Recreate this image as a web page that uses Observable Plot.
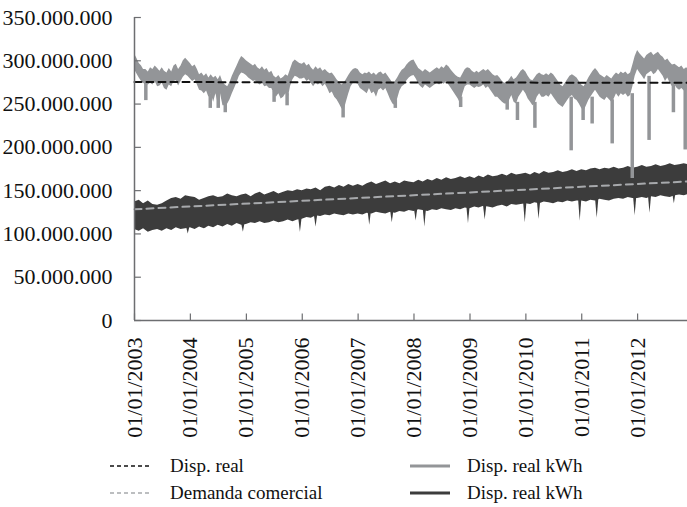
<!DOCTYPE html>
<html><head><meta charset="utf-8">
<script src="https://cdn.jsdelivr.net/npm/d3@7"></script>
<script src="https://cdn.jsdelivr.net/npm/@observablehq/plot@0.6"></script>
<style>
body{margin:0;background:#fff;font-family:"Liberation Serif","Times New Roman",serif;}
#wrap{position:relative;width:687px;height:507px;overflow:hidden;}
#legend{position:absolute;left:0;top:450px;width:687px;height:57px;font-size:19px;color:#111;}
.item{position:absolute;height:20px;line-height:20px;white-space:nowrap;}
</style></head><body><div id="wrap"><div id="chart"></div><div id="legend"></div></div>
<script>
// ---- axis ticks ----
const yTicks = [0, 50e6, 100e6, 150e6, 200e6, 250e6, 300e6, 350e6];
const xTickLabels = ["01/01/2003","01/01/2004","01/01/2005","01/01/2006","01/01/2007","01/01/2008","01/01/2009","01/01/2010","01/01/2011","01/01/2012"];
const xTickDates = ["2003-01-01","2004-01-01","2005-01-01","2006-01-01","2007-01-01","2008-01-01","2009-01-01","2010-01-01","2011-01-01","2012-01-01"];
const xDomain = ["2003-01-01", "2012-11-22"];

// ---- Disp. real kWh, light grey band (millions kWh), half-monthly from Jan 2003 ----
const grayHigh = [
 308,303,297,294,290,290,287,292,290,294,291,288,292,288,286,291,287,294,296,290,294,300,303,300, // 2003
 297,293,295,290,284,286,282,285,280,284,280,282,278,283,275,272,270,275,282,288,294,300,305,303, // 2004
 300,298,296,294,296,292,290,293,289,291,286,288,282,280,283,279,281,284,282,290,298,301,299,297, // 2005
 296,298,294,296,292,289,293,290,292,288,290,287,285,286,282,278,275,272,274,278,283,287,290,291, // 2006
 290,286,284,286,285,287,284,286,283,286,287,284,286,282,278,274,276,280,285,289,291,295,298,300, // 2007
 301,296,291,289,287,290,288,286,288,290,292,290,293,291,295,293,289,286,283,281,280,285,290,292, // 2008
 291,288,286,288,286,288,290,288,290,287,284,282,283,280,276,274,275,278,282,278,280,284,288,290, // 2009
 287,282,278,277,280,284,286,284,283,285,283,286,284,280,276,272,270,274,278,282,284,282,280,276, // 2010
 272,270,275,280,284,288,291,288,284,282,280,283,281,279,283,286,284,287,285,287,284,286,295,305, // 2011
 312,308,305,302,306,308,310,306,308,310,306,304,300,302,298,295,296,294,292,294,290,292,290      // 2012
];
const grayLow = [
 290,285,280,276,274,272,272,274,272,276,270,271,274,268,266,272,270,276,277,271,276,281,284,282, // 2003
 279,276,278,272,266,265,262,265,258,262,252,262,250,262,248,248,250,255,262,268,275,282,286,285, // 2004
 283,280,278,276,277,274,272,274,270,271,268,268,262,258,262,256,258,262,256,270,278,282,281,279, // 2005
 279,280,276,278,274,270,274,272,274,270,273,268,262,264,258,255,250,245,242,252,262,270,274,274, // 2006
 273,268,266,264,262,268,262,264,258,266,268,265,268,262,255,250,248,256,265,270,272,277,280,282, // 2007
 283,279,273,270,268,272,270,268,270,272,274,272,275,273,276,272,268,264,260,256,250,262,270,272, // 2008
 272,270,268,270,269,270,272,268,270,266,262,258,258,255,252,250,250,254,260,252,250,258,262,266, // 2009
 262,256,252,248,250,258,262,258,258,260,258,262,258,254,250,248,246,250,254,258,260,256,254,250, // 2010
 245,242,248,254,258,262,266,262,258,256,254,258,255,252,256,262,258,262,260,262,258,260,270,282, // 2011
 290,286,282,278,284,286,288,284,286,290,286,282,276,280,274,270,272,268,266,268,265,266,265      // 2012
];
// narrow downward spikes of the grey series
const graySpikeDates = ["2003-03-16","2004-05-10","2004-07-01","2004-08-16","2005-07-01","2005-09-24","2006-09-25","2007-09-01","2008-11-01","2009-09-01","2009-11-07","2010-03-01","2010-10-24","2011-01-10","2011-03-10","2011-07-19","2011-11-27","2012-03-16","2012-08-22","2012-11-07"];
const graySpikeLow = [254,245,245,240,252,248,234,245,246,243,231,222,196,231,227,204,164,208,240,197];
const graySpikeTop = [275,262,262,255,265,262,250,255,258,255,252,252,258,248,258,255,262,282,272,268];

// ---- Disp. real kWh, dark band (millions kWh), monthly from Jan 2003 ----
const darkHigh = [
 137,139,135,138,134,133,135,138,141,142,140,144,
 143,142,139,141,143,144,142,143,146,144,143,145,
 146,143,146,148,145,147,149,146,148,150,149,151,
 150,152,151,153,150,154,155,153,156,154,157,155,
 157,155,158,160,157,159,161,158,160,158,161,160,
 159,162,160,163,161,164,162,165,163,164,166,164,
 166,164,167,165,168,166,167,169,167,170,168,169,
 170,168,171,169,172,170,171,173,171,172,174,172,
 174,173,175,176,174,176,175,177,175,176,178,176,
 177,179,177,178,180,178,179,181,179,180,181,180
];
const darkLow = [
 105,103,106,102,104,105,103,106,104,107,105,106,
 107,105,108,106,109,107,110,108,111,109,112,110,
 111,113,112,114,112,113,115,113,114,116,114,116,
 117,119,118,121,120,122,121,123,122,121,123,122,
 123,122,124,123,125,124,123,125,124,126,125,127,
 126,128,127,126,128,127,129,128,127,129,128,130,
 129,131,130,132,131,130,132,133,131,134,133,134,
 135,134,136,135,137,136,135,137,136,138,137,138,
 138,137,139,138,140,139,138,140,141,140,142,141,
 141,142,141,143,142,144,143,142,144,145,144,146
];
// narrow downward dips of the dark series
const darkDipDates = ["2003-12-18","2004-04-08","2004-12-12","2005-12-20","2006-04-01","2007-03-18","2007-08-12","2008-01-15","2008-03-12","2008-12-22","2009-04-10","2009-12-28","2010-03-28","2010-12-22","2011-04-12","2011-12-16","2012-03-22","2012-08-28"];
const darkDipLow = [100,106,102,102,108,110,113,115,108,112,116,113,117,115,118,121,124,135];
const darkDipTop = [108,110,112,118,122,126,127,129,130,132,133,137,138,141,141,144,146,147];

// ---- reference lines (millions kWh) ----
const dispRealDates = ["2003-01-01","2012-11-22"];
const dispRealValues = [275.5, 274.5];
const demandaDates = ["2003-01-01","2012-11-22"];
const demandaValues = [128.5, 160.6];

const M = 1e6;
const halfMonths = d3.utcMonth.range(new Date("2003-01-01"), new Date("2013-01-01")).flatMap(m => [m, d3.utcDay.offset(m, 15)]);
const months = d3.utcMonth.range(new Date("2003-01-01"), new Date("2013-01-01"));
const grayData = grayHigh.map((h,i)=>({date:halfMonths[i], hi:h*M, lo:grayLow[i]*M}));
const graySpikes = graySpikeDates.map((d,i)=>({date:new Date(d), lo:graySpikeLow[i]*M, hi:graySpikeTop[i]*M}));
const darkData = darkHigh.map((h,i)=>({date:months[i], hi:h*M, lo:darkLow[i]*M}));
const darkTri = darkDipDates.flatMap((d,i)=>{
  const t = new Date(d), top = darkDipTop[i]*M;
  return [{id:i, date:d3.utcDay.offset(t,-11), top, v:top},
          {id:i, date:t, top, v:darkDipLow[i]*M},
          {id:i, date:d3.utcDay.offset(t,11), top, v:top}];
});
const dispReal = dispRealDates.map((d,i)=>({date:new Date(d), v:dispRealValues[i]*M}));
const demanda = demandaDates.map((d,i)=>({date:new Date(d), v:demandaValues[i]*M}));
const xt = xTickDates.map(d=>new Date(d));
const x0 = new Date(xDomain[0]);

const loc = d3.formatLocale({decimal:",", thousands:".", grouping:[3], currency:["",""]});
const fmt = loc.format(",d");

const AX = "#6d6e71", GRAY = "#939598", DARK = "#3c3c3c";

const chart = Plot.plot({
  width: 687, height: 450,
  marginLeft: 134, marginRight: 0, marginTop: 17, marginBottom: 130,
  style: {fontFamily: '"Liberation Serif","Times New Roman",serif', fontSize: "22px", color: "#111", background: "#fff"},
  x: {type: "utc", domain: xDomain.map(d=>new Date(d)), axis: null},
  y: {domain: [0, 350e6], axis: null},
  marks: [
    Plot.areaY(darkData, {x: "date", y1: "lo", y2: "hi", fill: DARK, clip: true}),
    Plot.areaY(darkTri, {x: "date", y1: "top", y2: "v", z: "id", fill: DARK, clip: true}),
    Plot.areaY(grayData, {x: "date", y1: "lo", y2: "hi", fill: GRAY, clip: true}),
    Plot.ruleX(graySpikes, {x: "date", y1: "lo", y2: "hi", stroke: GRAY, strokeWidth: 3.5}),
    Plot.line(dispReal, {x: "date", y: "v", stroke: "#111", strokeWidth: 2, strokeDasharray: "7,5"}),
    Plot.line(demanda, {x: "date", y: "v", stroke: "#a7a9ac", strokeWidth: 2, strokeDasharray: "7,5"}),
    // axis lines
    Plot.ruleY([0], {stroke: AX, strokeWidth: 1.5}),
    Plot.ruleX([x0], {y1: 0, y2: 350e6, stroke: AX, strokeWidth: 1.5}),
    // inward ticks
    Plot.ruleX(xt, {x: d=>d, y1: 0, y2: 7.5e6, stroke: AX, strokeWidth: 1.2}),
    Plot.ruleY(yTicks, {y: d=>d, x1: x0, x2: new Date("2003-02-15"), stroke: AX, strokeWidth: 1.2}),
    Plot.axisY({ticks: yTicks, tickFormat: fmt, tickSize: 0, tickPadding: 22, label: null, fontSize: 22}),
    Plot.axisX({ticks: xt, tickFormat: (d,i)=>xTickLabels[i], tickRotate: -90, tickSize: 0, tickPadding: 17, label: null, fontSize: 22})
  ]
});
document.getElementById("chart").appendChild(chart);

// ---- legend ----
const legendItems = [
  {label:"Disp. real", color:"#111", dash:"4,3", w:1.6, lx:110, tx:170, ty:6},
  {label:"Demanda comercial", color:"#a7a9ac", dash:"4,3", w:1.6, lx:110, tx:170, ty:33},
  {label:"Disp. real kWh", color:GRAY, dash:null, w:3, lx:410, tx:467, ty:6},
  {label:"Disp. real kWh", color:DARK, dash:null, w:3, lx:410, tx:467, ty:33}
];
const lg = document.getElementById("legend");
for (const it of legendItems) {
  const s = document.createElementNS("http://www.w3.org/2000/svg","svg");
  s.setAttribute("width", 40); s.setAttribute("height", 20);
  s.style.position = "absolute"; s.style.left = it.lx + "px"; s.style.top = it.ty + "px";
  const l = document.createElementNS("http://www.w3.org/2000/svg","line");
  l.setAttribute("x1", 0); l.setAttribute("x2", 40); l.setAttribute("y1", 10); l.setAttribute("y2", 10);
  l.setAttribute("stroke", it.color); l.setAttribute("stroke-width", it.w);
  if (it.dash) l.setAttribute("stroke-dasharray", it.dash);
  s.appendChild(l); lg.appendChild(s);
  const t = document.createElement("div");
  t.className = "item"; t.style.left = it.tx + "px"; t.style.top = it.ty + "px";
  t.textContent = it.label; lg.appendChild(t);
}
</script></body></html>
